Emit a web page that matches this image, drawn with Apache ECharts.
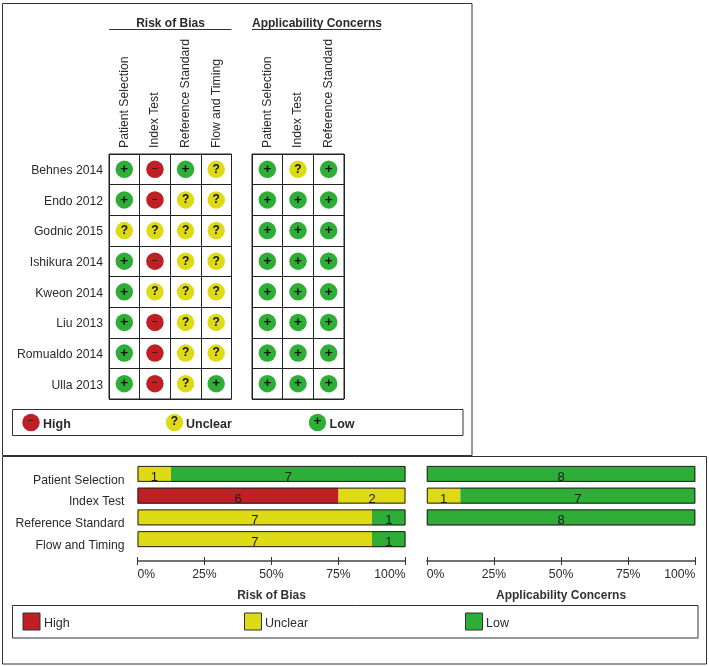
<!DOCTYPE html>
<html>
<head>
<meta charset="utf-8">
<title>Risk of Bias</title>
<style>
  html, body { margin: 0; padding: 0; background: #fff; }
  #main { width: 709px; height: 666px; }
</style>
<script src="https://cdn.jsdelivr.net/npm/echarts@6/dist/echarts.min.js"></script>
</head>
<body>
<div id="main"></div>
<script>
// data
var studies = ['Behnes 2014', 'Endo 2012', 'Godnic 2015', 'Ishikura 2014', 'Kweon 2014', 'Liu 2013', 'Romualdo 2014', 'Ulla 2013'];
var biasDomains = ['Patient Selection', 'Index Test', 'Reference Standard', 'Flow and Timing'];
var concernDomains = ['Patient Selection', 'Index Test', 'Reference Standard'];

// H = high, U = unclear, L = low, one string per study
var biasJudgements = ['LHLU', 'LHUU', 'UUUU', 'LHUU', 'LUUU', 'LHUU', 'LHUU', 'LHUL'];
var concernJudgements = ['LUL', 'LLL', 'LLL', 'LLL', 'LLL', 'LLL', 'LLL', 'LLL'];

var biasHigh = [0, 6, 0, 0];
var biasUnclear = [1, 2, 7, 7];
var biasLow = [7, 0, 1, 1];
var concernHigh = [0, 0, 0];
var concernUnclear = [0, 1, 0];
var concernLow = [8, 7, 8];

var percentTicks = ['0%', '25%', '50%', '75%', '100%'];

var RED = '#BE2025', YELLOW = '#DEDB16', GREEN = '#2FAE37';
var INK = '#2a2a2a', EDGE = '#333';
var FONT = 'Arial, "Liberation Sans", sans-serif';

var colorOf = { H: RED, U: YELLOW, L: GREEN };
var glyphOf = { H: '\u2212', U: '?', L: '+' };
var glyphWeight = { H: 'normal', U: 'bold', L: 'bold' };
var glyphSize = { H: 10, U: 12, L: 13.5 };

var chart = echarts.init(document.getElementById('main'));

// 把判断结果转成散点
function cells(judgements) {
  var out = [];
  judgements.forEach(function (row, r) {
    row.split('').forEach(function (code, c) {
      out.push({
        value: [c, r],
        code: code,
        label: { fontWeight: glyphWeight[code], fontSize: glyphSize[code] }
      });
    });
  });
  return out;
}

function matrixSeries(index, judgements) {
  return {
    type: 'scatter',
    xAxisIndex: index,
    yAxisIndex: index,
    symbolSize: 17.5,
    data: cells(judgements),
    itemStyle: {
      opacity: 1,
      color: function (p) { return colorOf[p.data.code]; }
    },
    label: {
      show: true,
      position: 'inside',
      color: '#111',
      fontFamily: FONT,
      formatter: function (p) { return glyphOf[p.data.code]; }
    }
  };
}

function sum(a, b, c) { return a + b + c; }

function stackedBars(xIndex, yIndex, stackName, high, unclear, low) {
  var label = {
    show: true,
    position: 'inside',
    color: '#1a1a1a',
    fontFamily: FONT,
    fontSize: 13,
    offset: [0, 3.5],
    formatter: function (p) { return p.value ? String(p.value) : ''; }
  };
  function part(name, values, color) {
    return {
      name: name,
      type: 'bar',
      stack: stackName,
      xAxisIndex: xIndex,
      yAxisIndex: yIndex,
      barWidth: 16,
      barGap: '-100%',
      data: values,
      itemStyle: { color: color },
      label: label
    };
  }
  var totals = high.map(function (v, i) { return sum(v, unclear[i], low[i]); });
  return [
    part('High', high, RED),
    part('Unclear', unclear, YELLOW),
    part('Low', low, GREEN),
    {
      // 整条的黑色外框
      type: 'bar',
      xAxisIndex: xIndex,
      yAxisIndex: yIndex,
      barWidth: 16,
      barGap: '-100%',
      silent: true,
      z: 3,
      data: totals,
      itemStyle: { color: 'transparent', borderColor: '#222', borderWidth: 1 }
    }
  ];
}

function matrixX(names, gridIndex) {
  return {
    type: 'category',
    gridIndex: gridIndex,
    position: 'top',
    data: names,
    axisLine: { show: false },
    axisTick: { show: false },
    splitLine: { show: true, lineStyle: { color: '#222', width: 1 } },
    axisLabel: {
      rotate: -90,
      interval: 0,
      margin: 6,
      color: INK,
      fontFamily: FONT,
      fontSize: 12.2
    }
  };
}

function matrixY(gridIndex, showLabels) {
  return {
    type: 'category',
    gridIndex: gridIndex,
    inverse: true,
    data: studies,
    axisLine: { show: false },
    axisTick: { show: false },
    splitLine: { show: true, lineStyle: { color: '#222', width: 1 } },
    axisLabel: {
      show: showLabels,
      interval: 0,
      margin: 6,
      color: INK,
      fontFamily: FONT,
      fontSize: 12.2,
      verticalAlign: 'top',
      lineHeight: 3
    }
  };
}

// 主轴带标签和向下的刻度
function percentAxis(gridIndex, title, offset) {
  return {
    type: 'value',
    gridIndex: gridIndex,
    position: 'bottom',
    offset: offset,
    min: 0,
    max: 8,
    interval: 2,
    name: title,
    nameLocation: 'middle',
    nameGap: 29,
    nameTextStyle: { color: '#333', fontFamily: FONT, fontWeight: 'bold', fontSize: 12 },
    axisLine: { show: true, onZero: false, lineStyle: { color: '#444', width: 1.5 } },
    axisTick: { show: true, length: 4, lineStyle: { color: '#333', width: 1 } },
    splitLine: { show: false },
    axisLabel: {
      margin: 8,
      color: INK,
      fontFamily: FONT,
      fontSize: 12.2,
      alignMinLabel: 'left',
      alignMaxLabel: 'right',
      formatter: function (v) { return percentTicks[v / 2]; }
    }
  };
}

// 第二条轴只画向上的刻度, 和主轴合起来是穿过轴线的刻度
function percentTickAxis(gridIndex, offset) {
  return {
    type: 'value',
    gridIndex: gridIndex,
    position: 'bottom',
    offset: offset,
    min: 0,
    max: 8,
    interval: 2,
    axisLine: { show: false, onZero: false },
    axisTick: { show: true, inside: true, length: 4, lineStyle: { color: '#333', width: 1 } },
    axisLabel: { show: false },
    splitLine: { show: false }
  };
}

function barY(names, gridIndex, showLabels) {
  return {
    type: 'category',
    gridIndex: gridIndex,
    inverse: true,
    data: names,
    axisLine: { show: false },
    axisTick: { show: false },
    axisLabel: {
      show: showLabels,
      interval: 0,
      margin: 13,
      color: INK,
      fontFamily: FONT,
      fontSize: 12.2,
      verticalAlign: 'top',
      lineHeight: 13
    }
  };
}

function box(x, y, w, h) {
  return { type: 'rect', shape: { x: x, y: y, width: w, height: h }, style: { fill: 'transparent', stroke: EDGE, lineWidth: 1 }, z: 0 };
}
function rule(x1, y, x2) {
  return { type: 'line', shape: { x1: x1, y1: y, x2: x2, y2: y }, style: { stroke: '#333', lineWidth: 1 } };
}
function text(x, y, str, size, weight, align) {
  return {
    type: 'text',
    x: x, y: y,
    style: { text: str, fill: INK, font: (weight || 'normal') + ' ' + size + 'px ' + FONT, align: align || 'left', verticalAlign: 'middle' }
  };
}
function dot(cx, cy, code) {
  return [
    { type: 'circle', shape: { cx: cx, cy: cy, r: 8.7 }, style: { fill: colorOf[code] } },
    { type: 'text', x: cx, y: cy - 1, z: 5, style: { text: glyphOf[code], fill: '#111', font: glyphWeight[code] + ' ' + glyphSize[code] + 'px ' + FONT, align: 'center', verticalAlign: 'middle' } }
  ];
}
function swatch(x, y, code) {
  return { type: 'rect', shape: { x: x, y: y, width: 17, height: 17 }, style: { fill: colorOf[code], stroke: '#333', lineWidth: 1 } };
}

var graphics = [
  box(2.5, 3.5, 469.5, 452),
  box(2.5, 456.5, 704, 207.5),
  box(12.5, 409.5, 450.5, 26),
  box(12.5, 605.5, 685.5, 32.5),
  rule(109, 29.5, 231.5),
  rule(252, 29.5, 381),
  text(170.5, 24, 'Risk of Bias', 12, 'bold', 'center'),
  text(317, 24, 'Applicability Concerns', 12, 'bold', 'center'),
  text(43, 424.5, 'High', 12.5, 'bold'),
  text(186, 424.5, 'Unclear', 12.5, 'bold'),
  text(329.5, 424.5, 'Low', 12.5, 'bold'),
  swatch(23, 613, 'H'),
  swatch(244.5, 613, 'U'),
  swatch(465.5, 613, 'L'),
  text(44, 623.5, 'High', 12.5),
  text(265, 623.5, 'Unclear', 12.5),
  text(486, 623.5, 'Low', 12.5)
].concat(dot(31, 422.5, 'H'), dot(174.5, 422.5, 'U'), dot(317.5, 422.5, 'L'));

var barRow = 87 / 4;

var option = {
  backgroundColor: '#fff',
  animation: false,
  grid: [
    { left: 109, top: 154, width: 122.5, height: 245, show: true, borderColor: '#222', borderWidth: 1, backgroundColor: 'transparent' },
    { left: 252, top: 154, width: 92, height: 245, show: true, borderColor: '#222', borderWidth: 1, backgroundColor: 'transparent' },
    { left: 137.5, top: 463, width: 268, height: 87 },
    { left: 426.8, top: 463, width: 268.5, height: barRow * 3 }
  ],
  xAxis: [
    matrixX(biasDomains, 0),
    matrixX(concernDomains, 1),
    percentAxis(2, 'Risk of Bias', 11),
    percentTickAxis(2, 11),
    percentAxis(3, 'Applicability Concerns', 11 + barRow),
    percentTickAxis(3, 11 + barRow)
  ],
  yAxis: [
    matrixY(0, true),
    matrixY(1, false),
    barY(biasDomains, 2, true),
    barY(concernDomains, 3, false)
  ],
  series: [
    matrixSeries(0, biasJudgements),
    matrixSeries(1, concernJudgements)
  ].concat(
    stackedBars(2, 2, 'bias', biasHigh, biasUnclear, biasLow),
    stackedBars(4, 3, 'concern', concernHigh, concernUnclear, concernLow)
  ),
  graphic: graphics
};

chart.setOption(option);
</script>
</body>
</html>
